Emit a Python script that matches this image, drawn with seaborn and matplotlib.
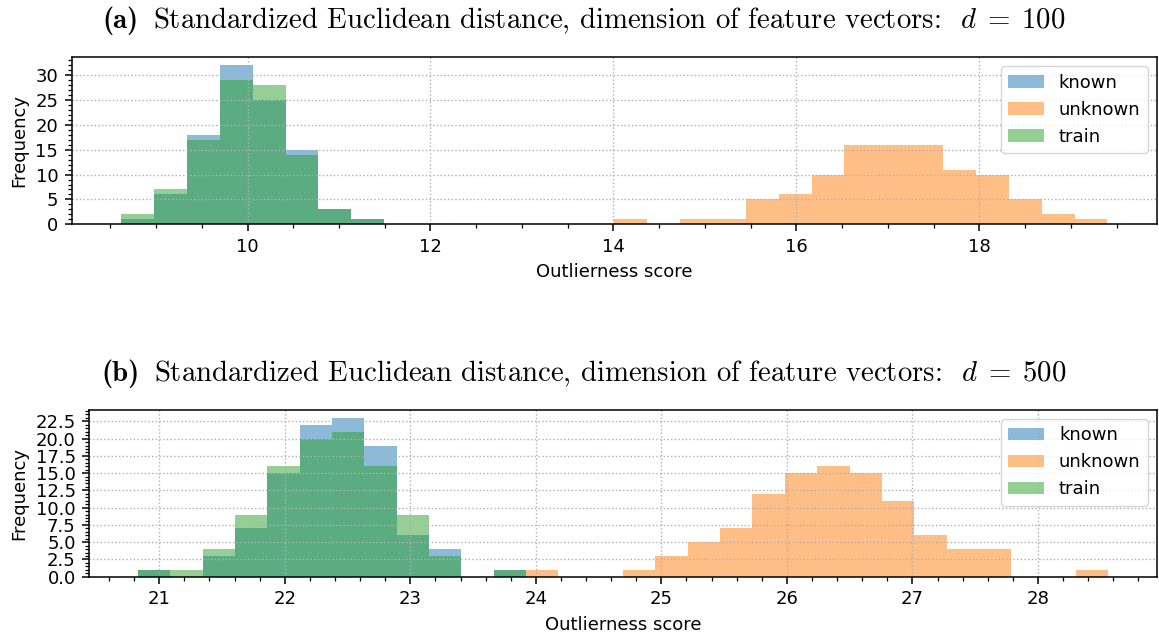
import numpy as np
import pandas as pd
import matplotlib
matplotlib.use("Agg")
import matplotlib.pyplot as plt
from matplotlib.ticker import MultipleLocator, AutoMinorLocator
import seaborn as sns

# ---------------- data ----------------
series_names = ["known", "unknown", "train"]
series_colors = ["#1f77b4", "#ff7f0e", "#2ca02c"]

# (a) d = 100 : 30 common bins over this score range
score_range_a = (8.62, 19.40)
known_a = [1, 6, 18, 32, 25, 15, 3, 1, 0, 0, 0, 0, 0, 0, 0,
           0, 0, 0, 0, 0, 0, 0, 0, 0, 0, 0, 0, 0, 0, 0]
unknown_a = [0, 0, 0, 0, 0, 0, 0, 0, 0, 0, 0, 0, 0, 0, 0,
             1, 0, 1, 1, 5, 6, 10, 16, 16, 16, 11, 10, 5, 2, 1]
train_a = [2, 7, 17, 29, 28, 14, 3, 1, 0, 0, 0, 0, 0, 0, 0,
           0, 0, 0, 0, 0, 0, 0, 0, 0, 0, 0, 0, 0, 0, 0]

# (b) d = 500 : 30 common bins over this score range
score_range_b = (20.83, 28.56)
known_b = [1, 0, 3, 7, 15, 22, 23, 19, 6, 4, 0, 1, 0, 0, 0,
           0, 0, 0, 0, 0, 0, 0, 0, 0, 0, 0, 0, 0, 0, 0]
unknown_b = [0, 0, 0, 0, 0, 0, 0, 0, 0, 0, 0, 0, 1, 0, 0,
             1, 3, 5, 7, 12, 15, 16, 15, 11, 6, 4, 4, 0, 0, 1]
train_b = [1, 1, 4, 9, 16, 20, 21, 16, 9, 3, 0, 1, 0, 0, 0,
           0, 0, 0, 0, 0, 0, 0, 0, 0, 0, 0, 0, 0, 0, 0]

# y tick spacing of each panel
y_step_a = 5
y_step_b = 2.5

panel_tags = ["(a)", "(b)"]
panel_titles = [
    r"Standardized Euclidean distance, dimension of feature vectors:  $d \;=\; 100$",
    r"Standardized Euclidean distance, dimension of feature vectors:  $d \;=\; 500$",
]
x_label = "Outlierness score"
y_label = "Frequency"

# ---------------- style ----------------
plt.rcParams["mathtext.fontset"] = "cm"
plt.rcParams["font.family"] = ["DejaVu Sans"]
plt.rcParams["font.size"] = 13

fig = plt.figure(figsize=(11.59, 6.37), dpi=100)
ax_a = fig.add_axes([0.0621, 0.6479, 0.9359, 0.2622])
ax_b = fig.add_axes([0.0771, 0.0947, 0.9210, 0.2617])

panels = [
    (ax_a, score_range_a, [known_a, unknown_a, train_a], y_step_a),
    (ax_b, score_range_b, [known_b, unknown_b, train_b], y_step_b),
]

for ax, (lo, hi), series, y_step in panels:
    edges = np.linspace(lo, hi, len(series[0]) + 1)
    centers = (edges[:-1] + edges[1:]) / 2
    for name, counts, color in zip(series_names, series, series_colors):
        df = pd.DataFrame({"score": centers, "count": counts})
        sns.histplot(data=df, x="score", weights="count", bins=edges.tolist(),
                     color=color, alpha=0.5, linewidth=0, label=name, ax=ax)
    ax.set_xlabel(x_label, fontsize=13, labelpad=5.4)
    ax.set_ylabel(y_label, fontsize=13, labelpad=5.4)
    ax.yaxis.set_major_locator(MultipleLocator(y_step))
    ax.xaxis.set_minor_locator(AutoMinorLocator())
    ax.yaxis.set_minor_locator(AutoMinorLocator())
    ax.tick_params(axis="both", which="major", labelsize=13,
                   length=4.9, width=1.1, pad=4.9)
    ax.tick_params(axis="both", which="minor", length=2.8, width=0.9)
    ax.grid(True, which="major", linestyle=":", color="#b0b0b0", linewidth=1.0)
    ax.grid(False, which="minor")
    for s in ax.spines.values():
        s.set_linewidth(1.1)
    ax.legend(loc="upper right", fontsize=13)

# panel headings: bold tag followed by the roman heading, centred as a group
fig_w_px = fig.get_figwidth() * fig.dpi
renderer = fig.canvas.get_renderer()
heading_baselines = [0.9556, 0.402]
heading_size = 20.7
tag_gap_px = 14
for tag, title, y in zip(panel_tags, panel_titles, heading_baselines):
    t_tag = fig.text(0, y, tag, family="cmb10", fontsize=heading_size,
                     ha="left", va="baseline")
    t_body = fig.text(0, y, title, family="cmr10", fontsize=heading_size,
                      ha="left", va="baseline")
    w_tag = t_tag.get_window_extent(renderer).width
    w_body = t_body.get_window_extent(renderer).width
    x0 = 584 - (w_tag + tag_gap_px + w_body) / 2
    t_tag.set_x(x0 / fig_w_px)
    t_body.set_x((x0 + w_tag + tag_gap_px) / fig_w_px)

fig.savefig("out.png", dpi=100)
